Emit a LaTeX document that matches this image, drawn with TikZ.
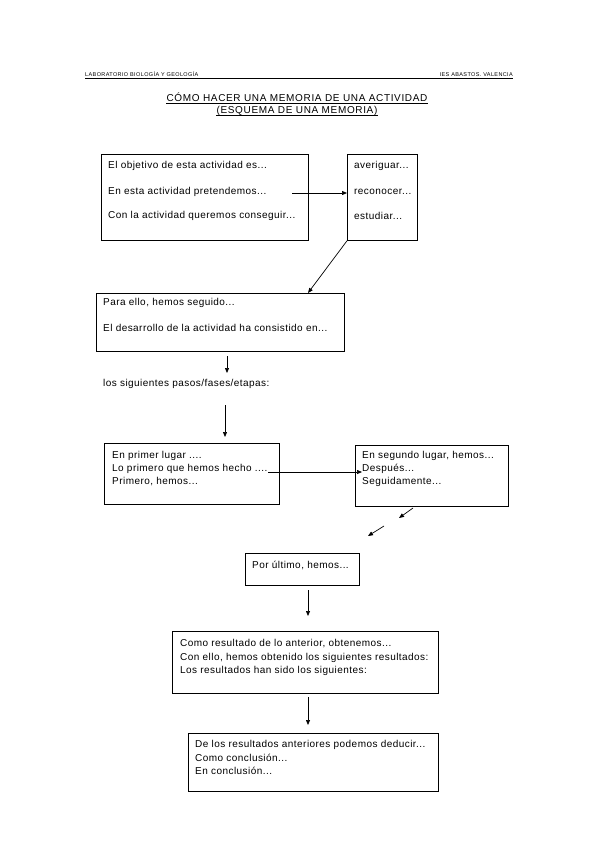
\documentclass[tikz,border=0pt]{standalone}
\usepackage{fontspec}
\setmainfont{Liberation Sans}
\newfontfamily\bodyfont[LetterSpace=4.5]{Liberation Sans}
\newfontfamily\ttlfont[LetterSpace=6.5]{Liberation Sans}
\newfontfamily\hdrfont[LetterSpace=7]{Liberation Sans}
\usetikzlibrary{arrows.meta}
\begin{document}
\begin{tikzpicture}[x=1pt,y=-1pt,
  box/.style={draw,line width=0.8pt,anchor=north west,inner sep=0pt},
  txt/.style={anchor=west,inner sep=0pt,font=\bodyfont\fontsize{10}{12}\selectfont},
  arr/.style={line width=0.7pt,-{Triangle[length=5pt,width=4pt]}},
  hdr/.style={inner sep=0pt,font=\hdrfont\fontsize{5.5}{6}\selectfont},
  ttl/.style={inner sep=0pt,anchor=base,font=\ttlfont\fontsize{10}{12}\selectfont},
  uline/.style={line width=0.5pt}]
\useasboundingbox (0,0) rectangle (599,848);
% header
\node[hdr,anchor=base west] (h1) at (85,77) {LABORATORIO BIOLOGÍA Y GEOLOGÍA};
\node[hdr,anchor=base east] (h2) at (513,77) {IES ABASTOS. VALENCIA};
\draw[line width=0.4pt] (h1.south west) ++(0,1.2) coordinate (hl) -- (hl -| h2.east);
% title
\node[ttl] (t1) at (297,102) {CÓMO HACER UNA MEMORIA DE UNA ACTIVIDAD};
\node[ttl] (t2) at (297,113.5) {(ESQUEMA DE UNA MEMORIA)};
\draw[uline] (t1.base west) ++(0,1.6) coordinate (u1) -- (u1 -| t1.base east);
\draw[uline] (t2.base west) ++(0,1.8) coordinate (u2) -- (u2 -| t2.base east);
% box 1
\node[box,minimum width=207pt,minimum height=86pt] (b1) at (101,154) {};
\node[txt] (l11) at (108,166) {El objetivo de esta actividad es...};
\node[txt] (l12) at (108,192) {En esta actividad pretendemos...};
\node[txt] (l13) at (108,216) {Con la actividad queremos conseguir...};
% box 2
\node[box,minimum width=70pt,minimum height=86pt] (b2) at (347,154) {};
\node[txt] (l21) at (354,166) {averiguar...};
\node[txt] (l22) at (354,192) {reconocer...};
\node[txt] (l23) at (354,216) {estudiar...};
\coordinate (c1) at (292,193);
\draw[arr] (c1) -- (c1 -| b2.west);
% box 3
\node[box,minimum width=248pt,minimum height=58pt] (b3) at (96,293) {};
\node[txt] (l31) at (103,303) {Para ello, hemos seguido...};
\node[txt] (l32) at (103,328) {El desarrollo de la actividad ha consistido en...};
\coordinate (c2) at (308,293);
\draw[arr] (b2.south west) -- (c2);
\coordinate (c3a) at (227,356);
\coordinate (c3b) at (227,373);
\draw[arr] (c3a) -- (c3b);
\node[txt] (l4) at (103,384) {los siguientes pasos/fases/etapas:};
\coordinate (c4a) at (225,405);
\draw[arr] (c4a) -- (225,437);
% box 4
\node[box,minimum width=175pt,minimum height=61pt] (b4) at (104,443) {};
\node[txt] (l41) at (112,456) {En primer lugar ....};
\node[txt] (l42) at (112,469) {Lo primero que hemos hecho ....};
\node[txt] (l43) at (112,482) {Primero, hemos...};
% box 5
\node[box,minimum width=153pt,minimum height=61pt] (b5) at (355,445) {};
\node[txt] (l51) at (362,456) {En segundo lugar, hemos...};
\node[txt] (l52) at (362,469) {Después...};
\node[txt] (l53) at (362,482) {Seguidamente...};
\coordinate (c5) at (268,472);
\draw[arr] (c5) -- (362,472);
\coordinate (d1a) at (413,508);
\coordinate (d1b) at (399,518);
\draw[arr] (d1a) -- (d1b);
\coordinate (d2a) at (384,526);
\coordinate (d2b) at (368,536);
\draw[arr] (d2a) -- (d2b);
% box 6
\node[box,minimum width=114pt,minimum height=32pt] (b6) at (245,553) {};
\node[txt] (l61) at (252,565) {Por último, hemos...};
\coordinate (c6a) at (308,590);
\coordinate (c6b) at (308,616);
\draw[arr] (c6a) -- (c6b);
% box 7
\node[box,minimum width=266pt,minimum height=62pt] (b7) at (172,631) {};
\node[txt] (l71) at (180,644) {Como resultado de lo anterior, obtenemos...};
\node[txt] (l72) at (180,658) {Con ello, hemos obtenido los siguientes resultados:};
\node[txt] (l73) at (180,671) {Los resultados han sido los siguientes:};
\coordinate (c7a) at (308,697);
\coordinate (c7b) at (308,725);
\draw[arr] (c7a) -- (c7b);
% box 8
\node[box,minimum width=250pt,minimum height=58pt] (b8) at (188,733) {};
\node[txt] (l81) at (195,745) {De los resultados anteriores podemos deducir...};
\node[txt] (l82) at (195,758) {Como conclusión...};
\node[txt] (l83) at (195,771) {En conclusión...};
\end{tikzpicture}
\end{document}
